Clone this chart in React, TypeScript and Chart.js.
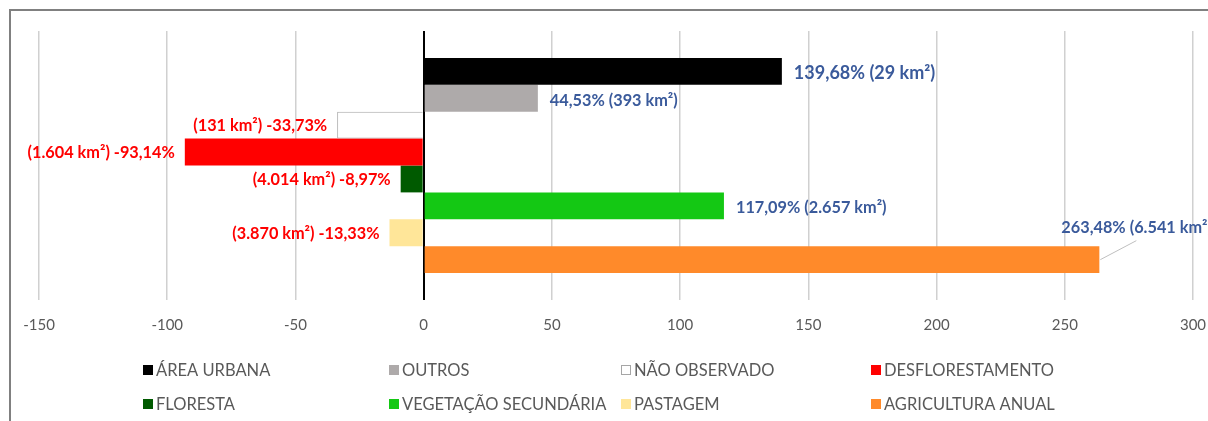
import React, { useEffect, useRef } from "react";
import { Chart, registerables } from "chart.js";

Chart.register(...registerables);

const categories = [
  "ÁREA URBANA",
  "OUTROS",
  "NÃO OBSERVADO",
  "DESFLORESTAMENTO",
  "FLORESTA",
  "VEGETAÇÃO SECUNDÁRIA",
  "PASTAGEM",
  "AGRICULTURA ANUAL",
];
const changePct = [139.68, 44.53, -33.73, -93.14, -8.97, 117.09, -13.33, 263.48];
const areaKm2 = ["29", "393", "131", "1.604", "4.014", "2.657", "3.870", "6.541"];
const fillColors = ["#000000", "#AEAAAA", "#FFFFFF", "#FF0000", "#005A00", "#14C814", "#FFE699", "#FF8A2A"];
const borderColors = ["#000000", "#AEAAAA", "#A6A6A6", "#FF0000", "#005A00", "#14C814", "#FFE699", "#FF8A2A"];
const labelFontSizes = [18, 16.3, 16.3, 16.3, 16.3, 16.3, 16.3, 16.3];
const xMin = -150;
const xMax = 300;
const xStep = 50;

const POS_COLOR = "#3A5A9B";
const NEG_COLOR = "#FF0000";

function fmtPct(v: number) {
  return v.toFixed(2).replace(".", ",") + "%";
}
function labelText(i: number) {
  const v = changePct[i];
  if (v >= 0) return `${fmtPct(v)} (${areaKm2[i]} km²)`;
  return `(${areaKm2[i]} km²) ${fmtPct(v)}`;
}

const frameAndLabels = {
  id: "frameAndLabels",
  beforeDraw(chart: any) {
    const ctx = chart.ctx;
    ctx.save();
    ctx.strokeStyle = "#808080";
    ctx.lineWidth = 2;
    ctx.beginPath();
    ctx.moveTo(10, chart.height);
    ctx.lineTo(10, 10);
    ctx.lineTo(chart.width, 10);
    ctx.stroke();
    ctx.restore();
  },
  afterDatasetsDraw(chart: any) {
    const ctx = chart.ctx;
    ctx.save();
    ctx.textBaseline = "middle";
    chart.data.datasets.forEach((ds: any, i: number) => {
      const meta = chart.getDatasetMeta(i);
      const bar = meta.data[0];
      if (!bar) return;
      const v = changePct[i];
      const txt = labelText(i);
      ctx.font = `bold ${labelFontSizes[i]}px Lato`;
      if (v >= 0) {
        ctx.fillStyle = POS_COLOR;
        ctx.textAlign = "left";
        if (i === categories.length - 1) {
          // callout placed above-left with leader line
          const lx = bar.x - 38;
          const ly = bar.y - 32;
          ctx.fillText(txt, lx, ly);
          ctx.strokeStyle = "#BFBFBF";
          ctx.lineWidth = 1;
          ctx.beginPath();
          ctx.moveTo(bar.x + 1, bar.y);
          ctx.lineTo(bar.x + 37, bar.y - 19);
          ctx.stroke();
        } else {
          ctx.fillText(txt, bar.x + 12, bar.y + 2);
        }
      } else {
        ctx.fillStyle = NEG_COLOR;
        ctx.textAlign = "right";
        ctx.fillText(txt, bar.x - 10, bar.y + 1);
      }
    });
    ctx.restore();
  },
  afterDraw(chart: any) {
    const ctx = chart.ctx;
    ctx.save();
    const colX = [143, 389, 621, 871];
    const rowY = [370, 404];
    ctx.font = "16.5px Lato";
    ctx.textBaseline = "middle";
    ctx.textAlign = "left";
    categories.forEach((name, i) => {
      const x = colX[i % 4];
      const y = rowY[Math.floor(i / 4)];
      ctx.fillStyle = fillColors[i];
      ctx.fillRect(x, y - 5, 10, 10);
      if (fillColors[i] === "#FFFFFF") {
        ctx.strokeStyle = borderColors[i];
        ctx.lineWidth = 1;
        ctx.strokeRect(x + 0.5, y - 4.5, 9, 9);
      }
      ctx.fillStyle = "#595959";
      ctx.fillText(name, x + 13, y + 1);
    });
    ctx.restore();
  },
};

export default function App() {
  const ref = useRef<HTMLCanvasElement>(null);
  useEffect(() => {
    if (!ref.current) return;
    const chart = new Chart(ref.current, {
      type: "bar",
      data: {
        labels: [""],
        datasets: categories.map((name, i) => ({
          label: name,
          data: [changePct[i]],
          backgroundColor: fillColors[i],
          borderColor: borderColors[i],
          borderWidth: fillColors[i] === "#FFFFFF" ? 1 : 0,
          categoryPercentage: 0.8,
          barPercentage: 1.0,
        })),
      },
      options: {
        indexAxis: "y",
        animation: false,
        responsive: true,
        maintainAspectRatio: false,
        layout: { padding: { left: 39, right: 15, top: 31, bottom: 81 } },
        plugins: {
          legend: { display: false },
          tooltip: { enabled: false },
        },
        scales: {
          y: { display: false },
          x: {
            min: xMin,
            max: xMax,
            afterFit: (s: any) => {
              s.height = 40;
              s.paddingLeft = 0;
              s.paddingRight = 0;
            },
            ticks: {
              stepSize: xStep,
              color: "#595959",
              font: { family: "Lato", size: 15 },
              padding: 16,
            },
            border: { display: false },
            grid: {
              drawTicks: false,
              color: (c: any) => (c.tick && c.tick.value === 0 ? "#000000" : "#D0D0D0"),
              lineWidth: (c: any) => (c.tick && c.tick.value === 0 ? 2 : 1.5),
            },
          },
        },
      },
      plugins: [frameAndLabels],
    });
    return () => chart.destroy();
  }, []);
  return (
    <div style={{ position: "absolute", left: 0, top: 0, width: 1208, height: 421, background: "#fff" }}>
      <canvas ref={ref} />
    </div>
  );
}
